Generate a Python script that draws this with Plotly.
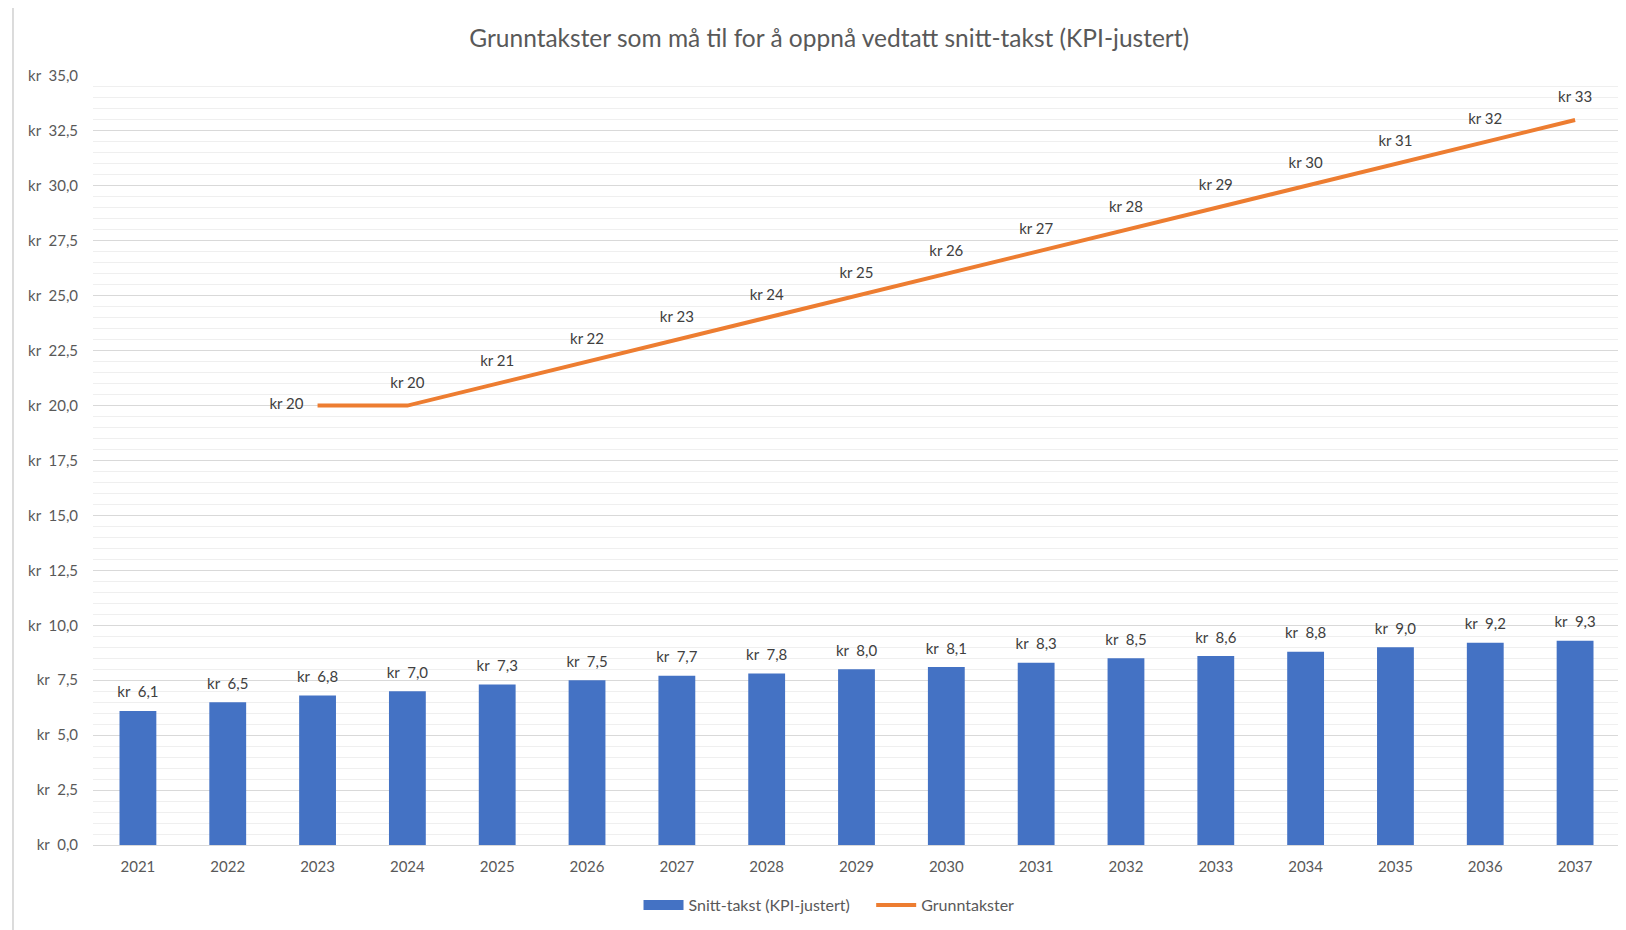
import plotly.graph_objects as go

years = [str(y) for y in range(2021, 2038)]
snitt_takst = [6.1, 6.5, 6.8, 7.0, 7.3, 7.5, 7.7, 7.8, 8.0, 8.1, 8.3, 8.5, 8.6, 8.8, 9.0, 9.2, 9.3]
grunn_years = [str(y) for y in range(2023, 2038)]
grunntakster = [20, 20, 21, 22, 23, 24, 25, 26, 27, 28, 29, 30, 31, 32, 33]
y_ticks = [0, 2.5, 5, 7.5, 10, 12.5, 15, 17.5, 20, 22.5, 25, 27.5, 30, 32.5, 35]

def kr(v, dec):
    return f"{v:.{dec}f}".replace(".", ",")

FONT = "Lato"
GREY = "#595959"
BLUE = "#4472C4"
ORANGE = "#ED7D31"

bar_text = ["kr\u00a0\u00a0" + kr(v, 1) for v in snitt_takst]
line_text = ["kr " + kr(v, 0) for v in grunntakster]
line_pos = ["middle left"] + ["top center"] * (len(grunntakster) - 1)

fig = go.Figure()
fig.add_trace(go.Bar(
    x=years, y=snitt_takst, name="Snitt-takst (KPI-justert)", showlegend=False,
    marker=dict(color=BLUE, line=dict(width=0)),
))
# data labels above the bars
fig.add_trace(go.Scatter(
    x=years, y=snitt_takst, mode="markers+text", showlegend=False, hoverinfo="skip",
    marker=dict(size=14, color="rgba(0,0,0,0)"),
    text=bar_text, textposition="top center", cliponaxis=False,
    textfont=dict(family=FONT, size=15, color="#404040"),
))
# legend entry drawn as a wide block like the original
fig.add_trace(go.Scatter(
    x=[years[0]], y=[None], name="Snitt-takst (KPI-justert)\u00a0\u00a0\u00a0\u00a0", mode="lines",
    line=dict(color=BLUE, width=10), showlegend=True, hoverinfo="skip",
))
fig.add_trace(go.Scatter(
    x=grunn_years, y=grunntakster, name="Grunntakster",
    mode="lines+markers+text",
    line=dict(color=ORANGE, width=4),
    marker=dict(size=21, color="rgba(0,0,0,0)"),
    text=line_text, textposition=line_pos, cliponaxis=False,
    textfont=dict(family=FONT, size=15, color="#404040"),
))

fig.update_layout(
    width=1618, height=922,
    margin=dict(l=85, r=6, t=68, b=85),
    paper_bgcolor="white", plot_bgcolor="white",
    font=dict(family=FONT, color=GREY, size=15),
    title=dict(text="Grunntakster som må til for å oppnå vedtatt snitt-takst (KPI-justert)",
               x=0.5075, xanchor="center", y=0.967, yanchor="middle",
               font=dict(family=FONT, size=24.5, color=GREY)),
    bargap=0.59,
    showlegend=True,
    legend=dict(orientation="h", x=0.482, xanchor="center", y=-0.078, yanchor="middle",
                font=dict(family=FONT, size=16, color=GREY), traceorder="normal",
                itemwidth=40),
    xaxis=dict(type="category", range=[-0.5, 16.5], showgrid=False, showline=True,
               linecolor="#d9d9d9", linewidth=1, ticks="",
               tickfont=dict(family=FONT, size=15, color=GREY), ticklabelstandoff=8),
    yaxis=dict(range=[0, 35], tickvals=y_ticks,
               ticktext=["kr\u00a0\u00a0" + kr(v, 1) for v in y_ticks],
               showgrid=True, gridcolor="#d9d9d9", gridwidth=1, zeroline=False,
               tickfont=dict(family=FONT, size=15, color=GREY), ticklabelstandoff=14,
               minor=dict(dtick=0.5, showgrid=True, gridcolor="#efefef", gridwidth=1)),
    shapes=[dict(type="rect", xref="paper", yref="paper",
                 x0=-0.0524, x1=1.01, y0=-0.12, y1=1.0923,
                 line=dict(color="#d0d0d0", width=1.5), layer="below")],
)

fig.write_html("out.html")
